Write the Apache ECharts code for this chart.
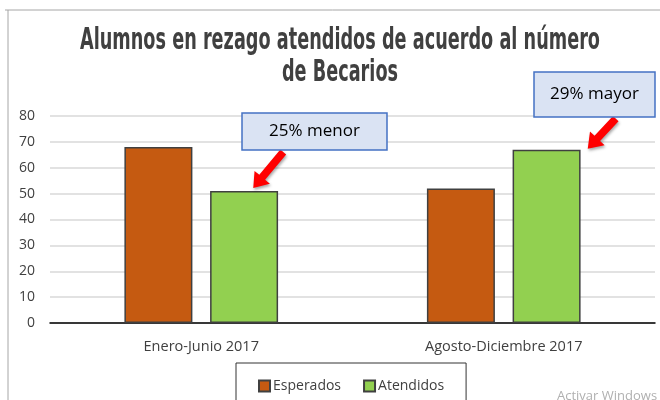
<!DOCTYPE html>
<html><head><meta charset="utf-8">
<script src="https://cdn.jsdelivr.net/npm/echarts@6/dist/echarts.min.js"></script>
<style>html,body{margin:0;padding:0;background:#fff}#c{width:660px;height:400px}</style>
</head><body><div id="c"></div>
<script>
const categories = ['Enero-Junio 2017', 'Agosto-Diciembre 2017'];
const esperados = [68, 52];
const atendidos = [51, 67];
const yTicks = [0, 10, 20, 30, 40, 50, 60, 70, 80];
const notes = ['25% menor', '29% mayor'];
const titleLines = ['Alumnos en rezago atendidos de acuerdo al número', 'de Becarios'];

const chart = echarts.init(document.getElementById('c'), null, {renderer: 'canvas'});
const option = {
  animation: false,
  legend: {
    top: 363, left: 236,
    padding: [16, 22, 16, 22],
    borderColor: '#333', borderWidth: 1,
    itemWidth: 11, itemHeight: 11, itemGap: 22,
    textStyle: {fontFamily: 'Open Sans', fontSize: 14, color: '#404040', padding: [0,0,0,-2]},
    data: [{name: 'Esperados', icon: 'rect'}, {name: 'Atendidos', icon: 'rect'}]
  },
  grid: {left: 50, right: 5, top: 116, bottom: 77},
  xAxis: {
    type: 'category', data: categories,
    axisLine: {lineStyle: {color: '#000', width: 1.5}},
    axisTick: {show: false},
    axisLabel: {fontFamily: 'Open Sans', fontSize: 14.5, color: '#404040', margin: 16}
  },
  yAxis: {
    type: 'value', min: yTicks[0], max: yTicks[yTicks.length-1], interval: 10,
    axisLine: {show: false}, axisTick: {show: false},
    axisLabel: {fontFamily: 'Open Sans', fontSize: 14, color: '#404040', margin: 15},
    splitLine: {lineStyle: {color: '#d9d9d9', width: 1.5}}
  },
  series: [
    {name: 'Esperados', type: 'bar', data: esperados, barWidth: 68, barGap: '26%',
     itemStyle: {color: '#c55a11', borderColor: '#404040', borderWidth: 1.5}},
    {name: 'Atendidos', type: 'bar', data: atendidos, barWidth: 68,
     itemStyle: {color: '#92d050', borderColor: '#404040', borderWidth: 1.5}}
  ]
};
chart.setOption(option);

function arrow(tipX, tipY, tailX, tailY) {
  const dx = tailX - tipX, dy = tailY - tipY;
  const L = Math.sqrt(dx*dx + dy*dy);
  const ux = dx / L, uy = dy / L, px = -uy, py = ux;
  const hl = 14, hw = 10, sw = 3.8;
  const bx = tipX + ux*hl, by = tipY + uy*hl;
  return [
    [tipX, tipY],
    [bx + px*hw, by + py*hw],
    [bx + px*sw, by + py*sw],
    [tailX + px*sw, tailY + py*sw],
    [tailX - px*sw, tailY - py*sw],
    [bx - px*sw, by - py*sw],
    [bx - px*hw, by - py*hw]
  ];
}

const g = [];
// chart frame
g.push({type: 'line', shape: {x1: 5, y1: 10, x2: 660, y2: 10}, style: {stroke: '#a6a6a6', lineWidth: 1}});
g.push({type: 'line', shape: {x1: 8, y1: 10, x2: 8, y2: 400}, style: {stroke: '#a6a6a6', lineWidth: 1}});

// title (condensed look via horizontal scaling)
const tFont = 'bold 30px "DejaVu Sans"';
const ctx = document.createElement('canvas').getContext('2d');
ctx.font = tFont;
const w1 = ctx.measureText(titleLines[0]).width;
const sx = 520 / w1;
const centers = [41, 73];
titleLines.forEach((t, i) => {
  g.push({type: 'text', x: 340, y: centers[i], scaleX: sx,
    style: {text: t, font: tFont, fill: '#404040', align: 'center', verticalAlign: 'middle'}, z: 10});
});

const boxes = [
  {x: 242, y: 113, w: 145, h: 37},
  {x: 534, y: 72, w: 121, h: 45}
];
const tipOff = [[52, -3], [84, -1]];
const tailOff = [[82, -39], [112, -31]];
for (let i = 0; i < 2; i++) {
  const p = chart.convertToPixel({seriesIndex: 1}, [i, atendidos[i]]);
  const tipX = p[0] + tipOff[i][0], tipY = p[1] + tipOff[i][1];
  const tailX = p[0] + tailOff[i][0], tailY = p[1] + tailOff[i][1];
  const b = boxes[i];
  g.push({type: 'polygon', shape: {points: arrow(tipX, tipY, tailX, tailY)},
    style: {fill: '#ff0000', shadowColor: 'rgba(0,0,0,0.35)', shadowBlur: 3, shadowOffsetX: 1, shadowOffsetY: 2}, z: 20});
  g.push({type: 'rect', shape: {x: b.x, y: b.y, width: b.w, height: b.h},
    style: {fill: '#dae3f3', stroke: '#4472c4', lineWidth: 1.5}, z: 21});
  g.push({type: 'text', x: b.x + b.w/2, y: b.y + b.h/2,
    style: {text: notes[i], fill: '#000', font: '17px "Open Sans"', align: 'center', verticalAlign: 'middle'}, z: 22});
}
g.push({type: 'text', x: 557, y: 390, style: {text: 'Activar Windows', fill: '#b0b0b0', font: '13px "Open Sans"'}, z: 30});
chart.setOption({graphic: g});
</script></body></html>
